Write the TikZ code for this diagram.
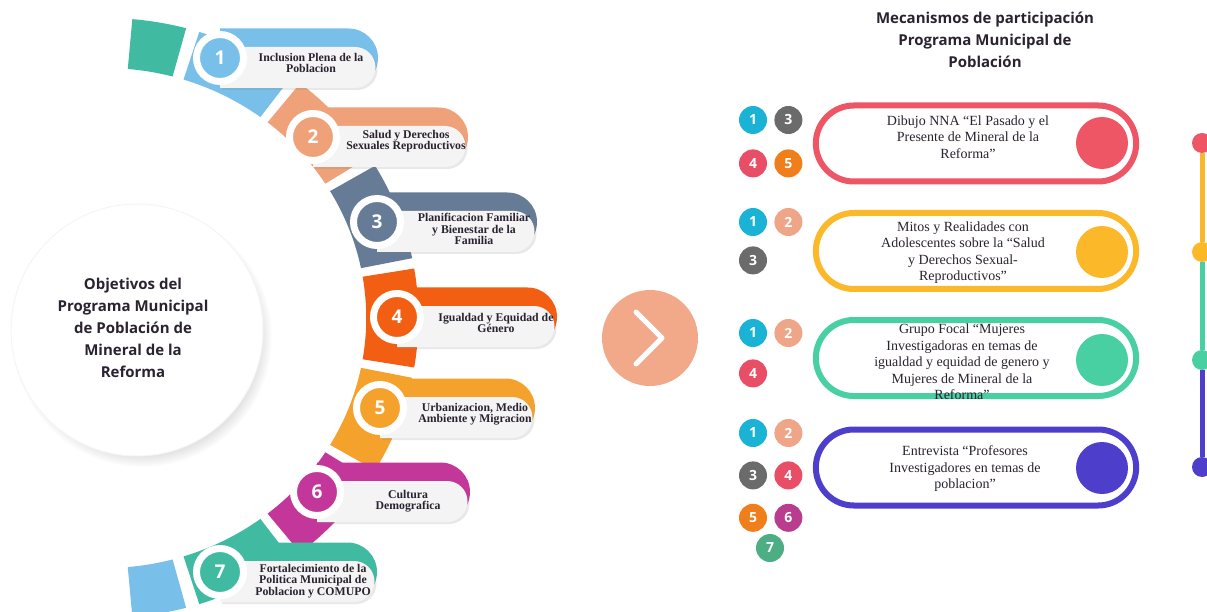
\documentclass[tikz,border=0pt]{standalone}
\usepackage{fontspec}
\setmainfont{Liberation Serif}
\setsansfont{Open Sans}
\usepackage{tikz}
\usetikzlibrary{positioning,shapes.misc,shadows}
\definecolor{objA}{HTML}{78BFEA}
\definecolor{objB}{HTML}{EFA27A}
\definecolor{objC}{HTML}{667C96}
\definecolor{objD}{HTML}{F25E12}
\definecolor{objE}{HTML}{F4A22C}
\definecolor{objF}{HTML}{C4379A}
\definecolor{objG}{HTML}{40BBA2}
\definecolor{pillbody}{HTML}{F4F4F4}
\definecolor{inkdark}{HTML}{2A2230}
\definecolor{nextfill}{HTML}{F2A98A}
\definecolor{badgeA}{HTML}{1AB3D6}
\definecolor{badgeB}{HTML}{EFA587}
\definecolor{badgeC}{HTML}{6B6B6B}
\definecolor{badgeD}{HTML}{E84E66}
\definecolor{badgeE}{HTML}{F07E1B}
\definecolor{badgeF}{HTML}{B83D8F}
\definecolor{badgeG}{HTML}{4DAE84}
\definecolor{mechA}{HTML}{EE5565}
\definecolor{mechB}{HTML}{FBB829}
\definecolor{mechC}{HTML}{48CFA2}
\definecolor{mechD}{HTML}{4E3ECC}

\begin{document}
\begin{tikzpicture}[x=1pt, y=-1pt,
  goal/.style={circle, fill=white, draw=black!4, line width=1pt, minimum size=252pt, inner sep=0pt,
    circular drop shadow={shadow xshift=5pt, shadow yshift=-7pt, shadow scale=1.03, opacity=0.35}},
  headline/.style={align=center, font=\sffamily\bfseries\fontsize{15}{22}\selectfont, text=inkdark},
  numdisk/.style={circle, draw=white, line width=7pt, minimum size=47pt, inner sep=0pt, text=white,
    font=\sffamily\bfseries\fontsize{19}{19}\selectfont, drop shadow={shadow xshift=2pt, shadow yshift=-2pt, opacity=0.2}},
  objtext/.style={align=center, font=\bfseries\fontsize{11.8}{11.5}\selectfont, text=inkdark, inner sep=0pt},
  nextbtn/.style={circle, fill=nextfill, minimum size=96pt, inner sep=0pt},
  badge/.style={circle, minimum size=28pt, inner sep=0pt, text=white, font=\sffamily\bfseries\fontsize{14}{14}\selectfont},
  mechpill/.style={rounded rectangle, line width=6pt, fill=white, minimum width=327pt, minimum height=76pt},
  mechtext/.style={align=center, font=\fontsize{14}{16.5}\selectfont, text=inkdark, inner sep=0pt},
  mechdot/.style={circle, minimum size=52pt, inner sep=0pt},
  tickdot/.style={circle, minimum size=20pt, inner sep=0pt},
  tick/.style={line width=5pt}
]
  \useasboundingbox (0,0) rectangle (1207,612);

  % ring behind the objectives
  \begin{scope}
    \clip (0,0) rectangle (1207,612);
    \begin{scope}[shift={(105,318)}, xscale=1.045]
      \foreach \s/\e/\col in {75/85/objG, 53.5/72.5/objA, 32.5/51.5/objB, 11.5/30.5/objC, -9.5/9.5/objD,
          -30.5/-11.5/objE, -51.5/-32.5/objF, -72.5/-53.5/objG, -85/-75/objA}
        \fill[\col] (\s:250pt) arc[start angle=\s, end angle=\e, radius=250pt]
          -- (\e:300pt) arc[start angle=\e, end angle=\s, radius=300pt] -- cycle;
    \end{scope}
  \end{scope}

  \node[goal] (goal) at (137,330) {};
  \node[headline] (goaltxt) at (133,328) {Objetivos del\\Programa Municipal\\de Población de\\Mineral de la\\Reforma};

  % objectives
  \foreach \k/\col/\cx/\cy/\rx/\tx/\ty/\txt in {
      1/objA/220/58/378/311/63/{Inclusion Plena de la\\Poblacion},
      2/objB/313/137/468/406/141/{Salud y Derechos\\Sexuales Reproductivos},
      3/objC/377/222/537/474/229/{Planificacion Familiar\\y Bienestar de la\\Familia},
      4/objD/397/317/557/496/323/{Igualdad y Equidad de\\Género},
      5/objE/380/408/535/475/414/{Urbanizacion, Medio\\Ambiente y Migracion},
      6/objF/317/492/470/408/501/{Cultura\\Demografica},
      7/objG/220/572/377/313/581/{Fortalecimiento de la\\Politica Municipal de\\Poblacion y COMUPO}} {
    \fill[\col] (\cx,\cy-29.5) -- (\rx-29.5,\cy-29.5) arc[start angle=90, end angle=-90, radius=29.5pt]
      -- (\cx,\cy+29.5) -- cycle;
    \fill[pillbody, drop shadow={shadow xshift=2pt, shadow yshift=-2pt, opacity=0.18}]
      (\cx,\cy-11) -- (\rx-23,\cy-11) arc[start angle=90, end angle=-90, radius=20.5pt]
      -- (\cx,\cy+30) -- cycle;
    \node[numdisk, fill=\col] (num\k) at (\cx,\cy) {\k};
    \node[objtext] (obj\k) at (\tx,\ty) {\txt};
  }

  \node[nextbtn] (next) at (650,338) {};
  \draw[white, line width=5pt, line cap=round, line join=round]
    ([shift={(-14,-26)}]next.center) -- ([shift={(12,0)}]next.center) -- ([shift={(-14,26)}]next.center);

  \node[headline] (mechtitle) at (985,40) {Mecanismos de participación\\Programa Municipal de\\Población};

  % mechanisms
  \node[mechpill, draw=mechA] (mechA) at (976,143.5) {};
  \node[mechtext] (mechAtxt) at (968,137) {Dibujo NNA “El Pasado y el\\Presente de Mineral de la\\Reforma”};
  \node[mechdot, fill=mechA] (mechAdot) at (1102,143) {};

  \node[mechpill, draw=mechB] (mechB) at (976,251) {};
  \node[mechtext] (mechBtxt) at (963,252.5) {Mitos y Realidades con\\Adolescentes sobre la “Salud\\y Derechos Sexual-\\Reproductivos”};
  \node[mechdot, fill=mechB] (mechBdot) at (1102,252) {};

  \node[mechpill, draw=mechC] (mechC) at (976,358) {};
  \node[mechtext] (mechCtxt) at (962,362) {Grupo Focal “Mujeres\\Investigadoras en temas de\\igualdad y equidad de genero y\\Mujeres de Mineral de la\\Reforma”};
  \node[mechdot, fill=mechC] (mechCdot) at (1102,360) {};

  \node[mechpill, draw=mechD] (mechD) at (976,467.5) {};
  \node[mechtext] (mechDtxt) at (965,469) {Entrevista “Profesores\\Investigadores en temas de\\poblacion”};
  \node[mechdot, fill=mechD] (mechDdot) at (1102,468) {};

  % badges
  \node[badge, fill=badgeA] (a1) at (753,120) {1};
  \node[badge, fill=badgeC, right=7pt of a1] (a3) {3};
  \node[badge, fill=badgeD, below=15pt of a1] (a4) {4};
  \node[badge, fill=badgeE, right=7pt of a4] (a5) {5};

  \node[badge, fill=badgeA] (b1) at (753,222) {1};
  \node[badge, fill=badgeB, right=7pt of b1] (b2) {2};
  \node[badge, fill=badgeC, below=10pt of b1] (b3) {3};

  \node[badge, fill=badgeA] (c1) at (753,333) {1};
  \node[badge, fill=badgeB, right=7pt of c1] (c2) {2};
  \node[badge, fill=badgeD, below=12pt of c1] (c4) {4};

  \node[badge, fill=badgeA] (d1) at (753,433) {1};
  \node[badge, fill=badgeB, right=7pt of d1] (d2) {2};
  \node[badge, fill=badgeC, below=14pt of d1] (d3) {3};
  \node[badge, fill=badgeD, right=7pt of d3] (d4) {4};
  \node[badge, fill=badgeE, below=14pt of d3] (d5) {5};
  \node[badge, fill=badgeF, right=7pt of d5] (d6) {6};
  \node[badge, fill=badgeG] (d7) at (770,548) {7};

  % timeline on the right edge
  \node[tickdot, fill=mechA] (t1) at (1202,143) {};
  \node[tickdot, fill=mechB] (t2) at (1202,252) {};
  \node[tickdot, fill=mechC] (t3) at (1202,360) {};
  \node[tickdot, fill=mechD] (t4) at (1202,467) {};
  \draw[tick, mechB] (t1) -- (t2);
  \draw[tick, mechC] (t2) -- (t3);
  \draw[tick, mechD] (t3) -- (t4);
\end{tikzpicture}
\end{document}
